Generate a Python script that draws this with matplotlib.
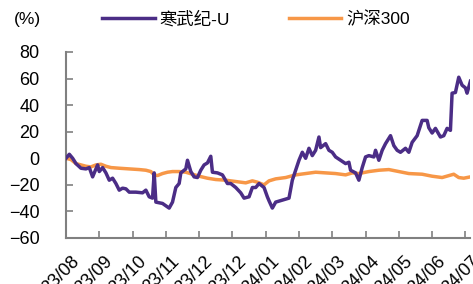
import matplotlib
matplotlib.use("Agg")
import matplotlib.pyplot as plt
from matplotlib.transforms import ScaledTranslation

plt.rcParams['font.family'] = ['Liberation Sans', 'Noto Sans CJK SC', 'DejaVu Sans']

tick_labels = ["23/08", "23/09", "23/10", "23/11", "23/12", "23/12", "24/01",
               "24/02", "24/03", "24/04", "24/05", "24/06", "24/07"]
tick_pos = [0, 20, 40, 60, 80, 100, 120, 140, 160, 180, 200, 220, 240]

cam_x = [0, 2, 4, 6, 9, 12, 14, 16, 18, 19, 20, 22, 24, 26, 28, 30, 32, 34, 36, 38,
         42, 46, 48, 50, 52, 53, 54, 58, 62, 64, 66, 68, 69, 72, 73, 75, 77, 79, 81, 83,
         85, 87, 88, 91, 94, 97, 99, 102, 105, 107, 110, 112, 114, 116, 119, 121, 122, 124, 126, 130,
         134, 136, 138, 140, 142, 144, 146, 148, 150, 152, 153, 156, 158, 160, 162, 165, 168, 170, 171, 174,
         176, 178, 180, 182, 185, 186, 188, 190, 192, 195, 197, 199, 201, 204, 206, 208, 211, 214, 217, 218,
         220, 222, 225, 227, 229, 231, 232, 234, 236, 238, 240, 241, 243]
cam_y = [0, 3, 0, -4, -7.5, -8, -7, -14, -8, -5, -10, -7, -11, -16.5, -15, -19, -24, -22.5, -23, -25.5,
         -25.5, -26, -24, -29, -30, -11, -33, -34, -37.5, -33, -22, -19, -11, -8, -1.5, -10, -14, -14.5, -9, -5,
         -3.5, 1.5, -10.5, -11, -12.5, -19, -19, -22, -26, -30, -29, -22, -22, -19, -22, -29, -32, -37.5, -33, -31.5,
         -30, -16.5, -9, -1.5, 4.5, 0, 7.5, 2, 6, 16, 8, 11, 6, 4.5, 1, -1.5, -4, -3, -9, -11,
         -16.5, -7, 1, 2, 1, 6, -1.5, 6, 11, 17, 9.5, 6, 4.5, 7.5, 4.5, 12, 17, 28.5, 28.5, 23,
         19, 22.5, 16, 17, 22.5, 21, 49, 49.5, 61, 55, 53, 49, 58]

hs_x = [0, 3, 6, 9, 12, 15, 18, 21, 24, 27, 32, 38, 44, 48, 51, 53, 55, 58, 61, 64,
        68, 72, 76, 80, 85, 90, 96, 102, 108, 112, 115, 119, 122, 126, 132, 138, 144, 150, 156, 162,
        168, 172, 176, 182, 188, 194, 200, 206, 214, 220, 226, 233, 236, 239, 243]
hs_y = [0, -1, -4, -5, -6, -6.5, -5, -4.5, -6, -7, -7.5, -8, -8.5, -9, -10, -12.5, -13, -11.5, -10.5, -10,
        -10, -10.5, -12, -13.5, -15, -16, -16.5, -17.5, -18.5, -17, -18, -20, -17, -15.5, -14.5, -12.5, -11.5, -10.5, -11, -11.5,
        -12.5, -11, -11.5, -10, -9, -8.5, -10, -11.5, -12, -13.5, -14.5, -12, -14.5, -15, -14]

purple = "#4B2D86"
orange = "#F79747"
gray = "#808080"

fig = plt.figure(figsize=(4.73, 2.84), dpi=100)
ax = fig.add_axes([0.1395, 0.162, 0.855, 0.655])

l1, = ax.plot(cam_x, cam_y, color=purple, lw=2.5, label="寒武纪-U", zorder=3)
l2, = ax.plot(hs_x, hs_y, color=orange, lw=2.5, label="沪深300", zorder=2)

ax.set_xlim(0, 243)
ax.set_ylim(-60, 80)
ax.set_yticks([-60, -40, -20, 0, 20, 40, 60, 80])
ax.set_xticks(tick_pos)
ax.set_xticklabels(tick_labels, rotation=45, ha='right', rotation_mode='anchor')

for s in ['top', 'right']:
    ax.spines[s].set_visible(False)
for s in ['left', 'bottom']:
    ax.spines[s].set_color(gray)
    ax.spines[s].set_linewidth(1.5)
ax.tick_params(direction='in', length=5, width=1.2, color=gray, labelsize=13)
ax.tick_params(axis='y', pad=19)
ax.tick_params(axis='x', pad=11)
offset = ScaledTranslation(5 / 100, 0, fig.dpi_scale_trans)
for lab in ax.get_xticklabels():
    lab.set_transform(lab.get_transform() + offset)

fig.text(0.03, 0.93, "(%)", fontsize=12.5, ha='left', va='center')

fig.legend(handles=[l1, l2], loc='center', bbox_to_anchor=(0.542, 0.933), ncol=2,
           frameon=False, fontsize=12.5, handlelength=3.0, handletextpad=0.3,
           columnspacing=3.4, borderpad=0, borderaxespad=0)

fig.savefig("out.png", dpi=100)
